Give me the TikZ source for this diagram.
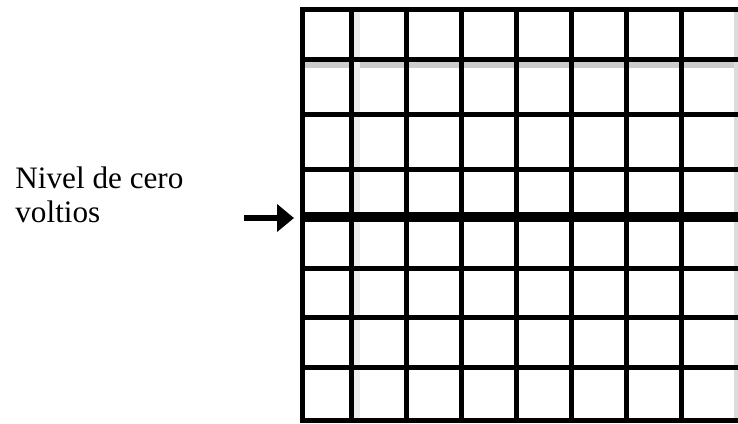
\documentclass[tikz,border=0pt]{standalone}
\usepackage{fontspec}
\setmainfont{Liberation Serif}
\usetikzlibrary{arrows.meta}

\begin{document}
\begin{tikzpicture}[
    x=.5pt,y=-.5pt,
    gl/.style={line width=2.5pt,black},
    zl/.style={line width=5pt,black},
    arr/.style={-{Triangle[length=8.5pt,width=13.5pt]},line width=3pt,black},
    lbl/.style={font=\fontsize{15.6}{17.2}\selectfont,align=left,inner sep=0pt,anchor=north west}
  ]
    \useasboundingbox (0,0) rectangle (738,423);
    % faint shadows of the scan
    \fill[black!20] (305,62) rectangle (738,67.5);
    \fill[black!7] (354,12) rectangle (360,418);
    \fill[black!14] (734,12) rectangle (738,418);
    % grid
    \begin{scope}
      \clip (0,0) rectangle (738,423);
      \foreach \y in {9.5,59.5,114,169,268,317.5,367.5,420.5} {\draw[gl] (299.5,\y)--(740,\y);}
      \foreach \x in {302,351.7,406.5,461.5,516.5,571.5,626.5,681.5} {\draw[gl] (\x,7)--(\x,423);}
    \end{scope}
    \coordinate (zeroL) at (299.5,216.7);
    \coordinate (zeroR) at (738,216.7);
    \draw[zl] (zeroL)--(zeroR);
    % label and arrow
    \node[lbl] (nivel) at (15,166) {Nivel de cero\\voltios};
    \coordinate (arrS) at (244,218);
    \coordinate (arrE) at (294,218);
    \draw[arr] (arrS)--(arrE);
  \end{tikzpicture}
\end{document}
